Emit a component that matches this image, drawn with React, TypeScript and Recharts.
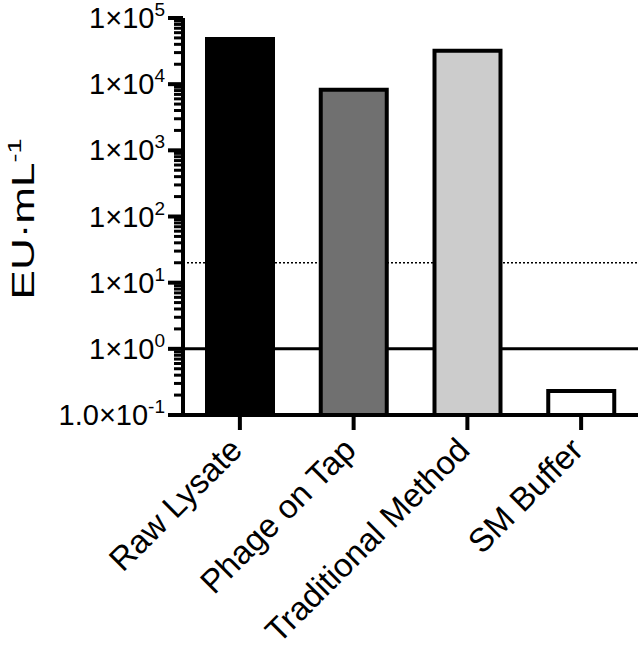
import { BarChart, Bar, XAxis, YAxis, ReferenceLine, Cell } from "recharts";

const categories = ["Raw Lysate", "Phage on Tap", "Traditional Method", "SM Buffer"];
const endotoxin = [48000, 8200, 32000, 0.23];

const decades = [0.1, 1, 10, 100, 1000, 10000, 100000];
const decadeLabels = ["1.0×10", "1×10", "1×10", "1×10", "1×10", "1×10", "1×10"];
const decadeExps = ["-1", "0", "1", "2", "3", "4", "5"];
const minorSteps = [2, 3, 4, 5, 6, 7, 8, 9];

const detectionLimit = 20;
const unityLine = 1;

const fills = ["#000000", "#707070", "#cccccc", "#ffffff"];

const data = categories.map((name, i) => ({ name, value: endotoxin[i] }));

const minorTicks = decades.slice(0, -1).flatMap((d) => minorSteps.map((m) => +(d * m).toPrecision(3)));
const yTicks = [...decades, ...minorTicks].sort((a, b) => a - b);

const FONT = "'Liberation Sans', Arial, sans-serif";

function YTick(props: any) {
  const { x, y, payload } = props;
  const idx = decades.findIndex((d) => Math.abs(d - payload.value) < 1e-9);
  if (idx < 0) {
    return <line x1={x - 9} x2={x} y1={y} y2={y} stroke="#000" strokeWidth={3} />;
  }
  return (
    <g>
      <line x1={x - 15} x2={x} y1={y} y2={y} stroke="#000" strokeWidth={4} />
      <text x={x - 18} y={y + 10} textAnchor="end" fontFamily={FONT} fontSize={29} fill="#000">
        {decadeLabels[idx]}
        <tspan fontSize={19} dy={-12}>{decadeExps[idx]}</tspan>
      </text>
    </g>
  );
}

function XTick(props: any) {
  const { x, y, payload } = props;
  const tx = x + 4;
  const ty = y + 22;
  return (
    <text
      x={tx}
      y={ty}
      textAnchor="end"
      transform={`rotate(-45, ${tx}, ${ty})`}
      fontFamily={FONT}
      fontSize={33}
      fill="#000"
    >
      {payload.value}
    </text>
  );
}

export default function App() {
  return (
    <div style={{ position: "absolute", left: 0, top: 0, width: 644, height: 649, background: "#fff" }}>
      <BarChart
        width={644}
        height={649}
        data={data}
        margin={{ top: 18, right: 6, bottom: 0, left: 0 }}
        barSize={66}
      >
        <ReferenceLine y={detectionLimit} stroke="#000" strokeWidth={1.5} strokeDasharray="2 2" zIndex={-50} ifOverflow="visible" />
        <ReferenceLine y={unityLine} stroke="#000" strokeWidth={3} zIndex={-50} ifOverflow="visible" />
        <XAxis
          dataKey="name"
          height={234}
          interval={0}
          axisLine={{ stroke: "#000", strokeWidth: 4 }}
          tickLine={{ stroke: "#000", strokeWidth: 4 }}
          tickSize={15}
          tickMargin={0}
          tick={<XTick />}
        />
        <YAxis
          scale="log"
          domain={[0.1, 100000]}
          ticks={yTicks}
          interval={0}
          width={183}
          allowDataOverflow
          axisLine={{ stroke: "#000", strokeWidth: 4 }}
          tickLine={false}
          tickSize={0}
          tickMargin={0}
          tick={<YTick />}
        />
        <Bar dataKey="value" isAnimationActive={false}>
          {data.map((d, i) => (
            <Cell key={d.name} fill={fills[i]} stroke="#000" strokeWidth={4} />
          ))}
        </Bar>
      </BarChart>
      <svg
        width={60}
        height={649}
        style={{ position: "absolute", left: 0, top: 0, pointerEvents: "none" }}
      >
        <text
          x={0}
          y={0}
          textAnchor="middle"
          transform="translate(34, 219) rotate(-90) scale(1.42, 1)"
          fontFamily={FONT}
          fontSize={31}
          fill="#000"
        >
          EU·mL
          <tspan fontSize={19} dy={-13}>-1</tspan>
        </text>
      </svg>
    </div>
  );
}
